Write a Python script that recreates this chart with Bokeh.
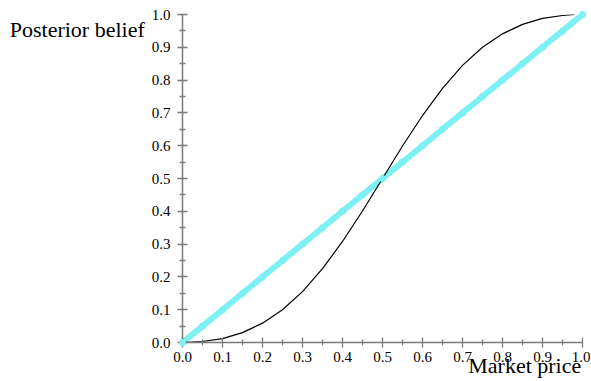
from bokeh.plotting import figure
from bokeh.models import Range1d, FixedTicker, NumeralTickFormatter
from bokeh.embed import file_html
from bokeh.resources import INLINE

# Market price grid
price = [0.0, 0.05, 0.1, 0.15, 0.2, 0.25, 0.3, 0.35, 0.4, 0.45, 0.5,
         0.55, 0.6, 0.65, 0.7, 0.75, 0.8, 0.85, 0.9, 0.95, 0.98]
# Posterior belief (black S-curve)
posterior = [0.0, 0.003, 0.012, 0.030, 0.059, 0.100, 0.155, 0.225, 0.308, 0.401, 0.5,
             0.599, 0.692, 0.775, 0.845, 0.900, 0.941, 0.970, 0.988, 0.997, 1.0]
# Identity line (cyan)
identity = [0.0, 0.05, 0.1, 0.15, 0.2, 0.25, 0.3, 0.35, 0.4, 0.45, 0.5,
            0.55, 0.6, 0.65, 0.7, 0.75, 0.8, 0.85, 0.9, 0.95, 1.0]
ticks = [0.0, 0.1, 0.2, 0.3, 0.4, 0.5, 0.6, 0.7, 0.8, 0.9, 1.0]
minor = [0.05, 0.15, 0.25, 0.35, 0.45, 0.55, 0.65, 0.75, 0.85, 0.95]

FONT = "Liberation Serif"
NBSP = "\u00a0"

p = figure(width=590, height=381, output_backend="svg", toolbar_location=None,
           x_range=Range1d(0, 1), y_range=Range1d(0, 1),
           min_border_left=182, min_border_right=8, min_border_top=14, min_border_bottom=39)
p.outline_line_color = None
p.grid.visible = False
p.background_fill_color = "white"
p.border_fill_color = "white"

for ax in (p.xaxis[0], p.yaxis[0]):
    ax.ticker = FixedTicker(ticks=ticks, minor_ticks=minor)
    ax.formatter = NumeralTickFormatter(format="0.0")
    ax.axis_line_color = "#7a7a7a"
    ax.axis_line_width = 1.5
    ax.major_tick_line_color = "#7a7a7a"
    ax.major_tick_line_width = 1.3
    ax.minor_tick_line_color = "#7a7a7a"
    ax.minor_tick_line_width = 1.3
    ax.major_tick_in = 5
    ax.major_tick_out = 5
    ax.minor_tick_in = 3
    ax.minor_tick_out = 3
    ax.major_label_text_font = FONT
    ax.major_label_text_font_size = "15px"
    ax.major_label_text_color = "black"
    ax.axis_label_text_font = FONT
    ax.axis_label_text_font_size = "22px"
    ax.axis_label_text_font_style = "normal"
    ax.axis_label_text_color = "black"
    ax.axis_label_align = "end"
p.xaxis[0].major_label_standoff = 4
p.yaxis[0].major_label_standoff = 7

# label is centred on the axis end, so pad it to put its right edge there
p.xaxis[0].axis_label = "Market price" + NBSP * 21
p.xaxis[0].axis_label_standoff = -12
p.yaxis[0].axis_label = "\nPosterior belief"
p.yaxis[0].axis_label_orientation = "horizontal"
p.yaxis[0].axis_label_standoff = 4

p.line(identity, identity, line_color="#7cf0f2", line_width=6)
p.scatter(identity, identity, size=7, fill_color="#7cf0f2", line_color=None, level="overlay")
p.line(price, posterior, line_color="black", line_width=1.2)

open("out.html", "w").write(file_html(p, INLINE))
